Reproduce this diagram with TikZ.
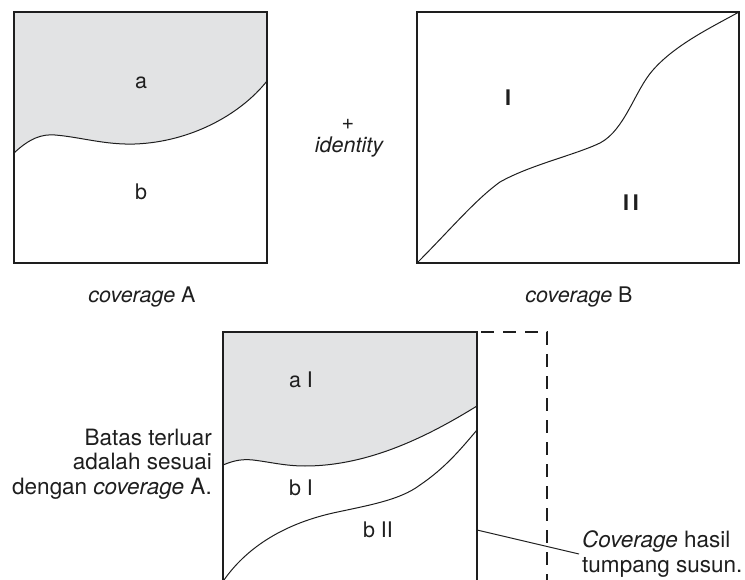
\documentclass[tikz,border=0pt]{standalone}
\usepackage{fontspec}
\setmainfont{TeX Gyre Heros}
\definecolor{areagray}{HTML}{E2E3E4}
\definecolor{ink}{HTML}{1E1E1E}
\begin{document}
\begin{tikzpicture}[x=1pt,y=-1pt,
  lbl/.style={font=\fontsize{21.5}{25}\selectfont, text=ink, inner sep=0pt},
  sidelbl/.style={font=\fontsize{22.5}{24.5}\selectfont, text=ink, inner sep=0pt},
  boxline/.style={draw=ink, line width=1.3pt},
  curve/.style={draw=ink, line width=1pt},
  dashbox/.style={draw=ink, line width=1.2pt, dash pattern=on 13pt off 9pt}]
\useasboundingbox (0,0) rectangle (745,580);
% ---------- coverage A ----------
\fill[areagray] (14,12) -- (14,153) .. controls (30,138) and (42,134) .. (55,135)
  .. controls (80,137) and (105,145) .. (135,144)
  .. controls (190,142) and (240,115) .. (267,81) -- (267,12) -- cycle;
\draw[curve] (14,153) .. controls (30,138) and (42,134) .. (55,135)
  .. controls (80,137) and (105,145) .. (135,144)
  .. controls (190,142) and (240,115) .. (267,81);
\draw[boxline] (14,12) rectangle (267,263);
\node[lbl] (a) at (141,83) {a};
\node[lbl] (b) at (141,192) {b};
\node[lbl] (capA) at (142,297) {\itshape coverage\upshape\ A};
% ---------- plus identity ----------
\node[lbl] (plus) at (348,124) {+};
\node[lbl] (ident) at (349,147) {\itshape identity};
% ---------- coverage B ----------
\draw[curve] (417,263) .. controls (450,230) and (475,200) .. (500,182)
  .. controls (530,165) and (575,155) .. (600,143)
  .. controls (625,130) and (635,90) .. (653,70)
  .. controls (675,45) and (710,28) .. (739,12);
\draw[boxline] (417,12) rectangle (739,263);
\node[lbl] (I) at (508,98) {\bfseries I};
\node[lbl] (II) at (631,203) {\bfseries I\,I};
\node[lbl] (capB) at (579,297) {\itshape coverage\upshape\ B};
% ---------- overlay ----------
\fill[areagray] (223,332) -- (223,465) .. controls (235,460) and (243,459) .. (253,460)
  .. controls (270,462) and (285,466) .. (305,466)
  .. controls (370,466) and (430,435) .. (477,406) -- (477,332) -- cycle;
\draw[curve] (223,465) .. controls (235,460) and (243,459) .. (253,460)
  .. controls (270,462) and (285,466) .. (305,466)
  .. controls (370,466) and (430,435) .. (477,406);
\draw[curve] (224,580) .. controls (245,550) and (280,525) .. (333,513)
  .. controls (370,505) and (400,500) .. (420,485)
  .. controls (445,468) and (460,450) .. (477,430);
\draw[boxline] (477,580) -- (477,332) -- (223,332) -- (223,580);
\draw[dashbox] (223,580) -- (223,332) -- (547,332) -- (547,580);
\node[lbl] (aI) at (301,380) {a I};
\node[lbl] (bI) at (301,488) {b I};
\node[lbl] (bII) at (378,530) {b II};
\node[sidelbl, align=right, anchor=east] (left) at (212,464)
  {Batas terluar\\adalah sesuai\\dengan \itshape coverage\upshape\ A.};
\node[sidelbl, align=left, anchor=west] (right) at (582,554)
  {\itshape Coverage\upshape\ hasil\\tumpang susun.};
\coordinate (edge) at (477,530);
\draw[ink, line width=1pt] (edge) -- ([xshift=-3pt]right.west);
\end{tikzpicture}
\end{document}
